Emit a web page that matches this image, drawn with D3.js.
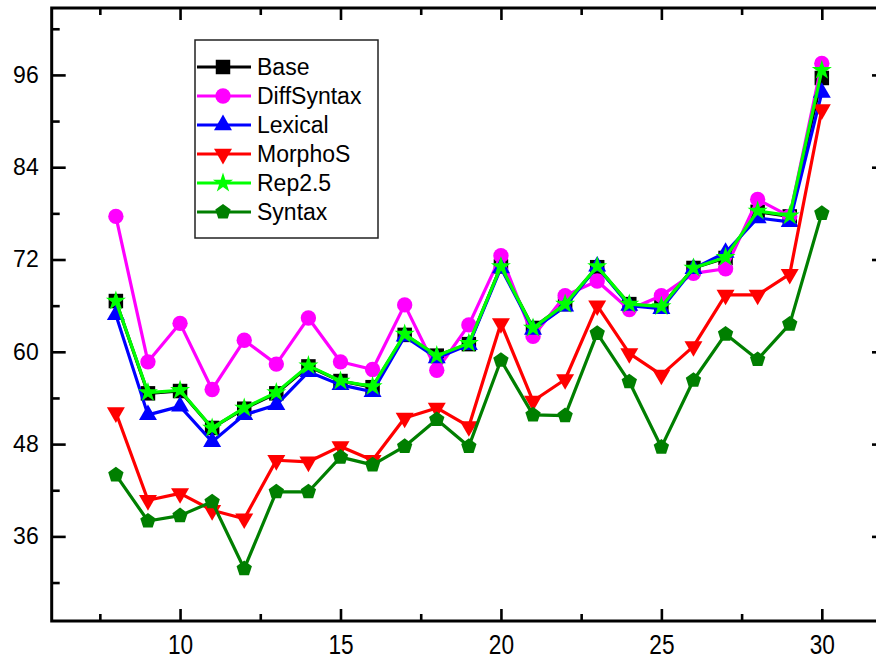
<!DOCTYPE html>
<html>
<head>
<meta charset="utf-8">
<script src="https://cdn.jsdelivr.net/npm/d3@7"></script>
<style>
  html, body { margin: 0; padding: 0; background: #fff; }
  svg { display: block; font-family: "Liberation Sans", Arial, sans-serif; }
</style>
</head>
<body>
<svg id="chart" width="876" height="659"></svg>
<script>
(function(){
'use strict';

// x positions (one point per integer)
var xValues = [8, 9, 10, 11, 12, 13, 14, 15, 16, 17, 18, 19, 20, 21, 22, 23, 24, 25, 26, 27, 28, 29, 30];

var baseValues       = [66.6, 54.6, 54.9, 50.1, 52.6, 54.6, 58.1, 56.2, 55.4, 62.2, 59.5, 61.0, 71.1, 63.1, 66.2, 71.0, 66.2, 65.9, 70.9, 72.2, 78.2, 77.6, 95.6];
var diffSyntaxValues = [77.6, 58.7, 63.7, 55.1, 61.5, 58.4, 64.4, 58.7, 57.7, 66.1, 57.6, 63.5, 72.5, 62.0, 67.3, 69.2, 65.5, 67.3, 70.2, 70.8, 79.8, 77.6, 97.5];
var lexicalValues    = [64.8, 51.8, 52.9, 48.3, 51.8, 53.1, 57.4, 55.7, 54.8, 62.0, 59.2, 60.9, 70.9, 62.9, 65.9, 71.1, 66.0, 65.6, 70.8, 72.9, 77.4, 76.9, 93.7];
var morphoSValues    = [52.1, 40.7, 41.6, 39.4, 38.3, 45.9, 45.7, 47.7, 45.9, 51.4, 52.7, 50.3, 63.7, 53.6, 56.4, 66.0, 59.8, 57.0, 60.7, 67.4, 67.4, 70.1, 91.5];
var rep25Values      = [66.6, 54.7, 55.0, 50.1, 52.7, 54.7, 58.2, 56.2, 55.5, 62.3, 59.5, 61.1, 71.1, 63.1, 66.2, 71.1, 66.2, 65.9, 70.9, 72.3, 78.3, 77.7, 96.6];
var syntaxValues     = [44.0, 38.0, 38.7, 40.5, 31.8, 41.8, 41.8, 46.3, 45.3, 47.7, 51.2, 47.7, 58.9, 51.8, 51.7, 62.4, 56.1, 47.6, 56.3, 62.3, 59.0, 63.6, 78.0];

var seriesNames = ['Base', 'DiffSyntax', 'Lexical', 'MorphoS', 'Rep2.5', 'Syntax'];

var xMajorTicks = [10, 15, 20, 25, 30];
var xMinorTicks = [7.5, 12.5, 17.5, 22.5, 27.5];
var yMajorTicks = [36, 48, 60, 72, 84, 96];
var yMinorTicks = [30, 42, 54, 66, 78, 90, 102];

var series = [
    {name: seriesNames[0], values: baseValues,       color: '#000000', fill: '#000000', symbol: 'square'},
    {name: seriesNames[1], values: diffSyntaxValues, color: '#ff00ff', fill: '#ff00ff', symbol: 'circle'},
    {name: seriesNames[2], values: lexicalValues,    color: '#0000ff', fill: '#0000ff', symbol: 'triangleUp'},
    {name: seriesNames[3], values: morphoSValues,    color: '#ff0000', fill: '#ff0000', symbol: 'triangleDown'},
    {name: seriesNames[4], values: rep25Values,      color: '#00ff00', fill: '#00ff00', symbol: 'star'},
    {name: seriesNames[5], values: syntaxValues,     color: '#007f00', fill: '#007f00', symbol: 'pentagon'}
];

var frame = {left: 51.7, right: 886, top: 8, bottom: 621};

var x = d3.scaleLinear().domain([6, 32]).range([frame.left, frame.right]);
var y = d3.scaleLinear().domain([25, 104.7]).range([frame.bottom, frame.top]);

var svg = d3.select('#chart');

// symbol generator, returns a path string centred on 0,0
var pentagon = {
    draw: function(context, size) {
        var r = Math.sqrt(size / 2.3776);
        for (var i = 0; i < 5; i++) {
            var a = -Math.PI / 2 + i * 2 * Math.PI / 5;
            if (i === 0) context.moveTo(r * Math.cos(a), r * Math.sin(a));
            else context.lineTo(r * Math.cos(a), r * Math.sin(a));
        }
        context.closePath();
    }
};

function symbolPath(kind) {
    switch (kind) {
        case 'square': return d3.symbol(d3.symbolSquare, 210)();
        case 'circle': return d3.symbol(d3.symbolCircle, 185)();
        case 'triangleUp': return d3.symbol(d3.symbolTriangle, 140)();
        case 'triangleDown': return d3.symbol(d3.symbolTriangle, 140)();
        case 'star': return d3.symbol(d3.symbolStar, 125)();
        case 'pentagon': return d3.symbol(pentagon, 155)();
    }
}

function symbolTransform(kind, px, py) {
    return 'translate(' + px + ',' + py + ')' + (kind === 'triangleDown' ? ' rotate(180)' : '');
}

// ---- axes (ticks pointing inward) ----
var fontAxis = '"Liberation Sans", Arial, sans-serif';

function styleAxis(g) {
    g.select('.domain').remove();
    g.selectAll('line').attr('stroke', '#000').attr('stroke-width', 2.6);
}

var bottom = svg.append('g').attr('transform', 'translate(0,' + frame.bottom + ')')
    .call(d3.axisBottom(x).tickValues(xMajorTicks).tickSize(-12).tickPadding(14).tickFormat(d3.format('d')))
    .call(styleAxis);
bottom.selectAll('text')
    .attr('font-size', 27).attr('font-family', fontAxis).attr('fill', '#000')
    .attr('transform', 'scale(0.84,1)');

svg.append('g').attr('transform', 'translate(0,' + frame.bottom + ')')
    .call(d3.axisBottom(x).tickValues(xMinorTicks).tickSize(-7).tickFormat(''))
    .call(styleAxis);

svg.append('g').attr('transform', 'translate(0,' + frame.top + ')')
    .call(d3.axisTop(x).tickValues(xMajorTicks).tickSize(-12).tickFormat(''))
    .call(styleAxis);
svg.append('g').attr('transform', 'translate(0,' + frame.top + ')')
    .call(d3.axisTop(x).tickValues(xMinorTicks).tickSize(-7).tickFormat(''))
    .call(styleAxis);

var left = svg.append('g').attr('transform', 'translate(' + frame.left + ',0)')
    .call(d3.axisLeft(y).tickValues(yMajorTicks).tickSize(-14).tickPadding(13).tickFormat(d3.format('d')))
    .call(styleAxis);
left.selectAll('text').attr('font-size', 23).attr('font-family', fontAxis).attr('fill', '#000');

svg.append('g').attr('transform', 'translate(' + frame.left + ',0)')
    .call(d3.axisLeft(y).tickValues(yMinorTicks).tickSize(-8).tickFormat(''))
    .call(styleAxis);

svg.append('g').attr('transform', 'translate(' + frame.right + ',0)')
    .call(d3.axisRight(y).tickValues(yMajorTicks).tickSize(-14).tickFormat(''))
    .call(styleAxis);
svg.append('g').attr('transform', 'translate(' + frame.right + ',0)')
    .call(d3.axisRight(y).tickValues(yMinorTicks).tickSize(-8).tickFormat(''))
    .call(styleAxis);

svg.append('rect')
    .attr('x', frame.left).attr('y', frame.top)
    .attr('width', frame.right - frame.left).attr('height', frame.bottom - frame.top)
    .attr('fill', 'none').attr('stroke', '#000').attr('stroke-width', 3);

// ---- series ----
var line = d3.line()
    .x(function(d, i) { return x(xValues[i]); })
    .y(function(d) { return y(d); });

series.forEach(function(s) {
    var g = svg.append('g').attr('class', 'series');
    g.append('path')
        .attr('d', line(s.values))
        .attr('fill', 'none')
        .attr('stroke', s.color)
        .attr('stroke-width', 3.2)
        .attr('stroke-linejoin', 'round');
    g.selectAll('path.marker').data(s.values).enter().append('path')
        .attr('class', 'marker')
        .attr('d', symbolPath(s.symbol))
        .attr('transform', function(d, i) { return symbolTransform(s.symbol, x(xValues[i]), y(d)); })
        .attr('fill', s.fill);
});

// ---- legend ----
var legend = svg.append('g').attr('class', 'legend');
legend.append('rect')
    .attr('x', 195).attr('y', 40).attr('width', 183).attr('height', 198)
    .attr('fill', '#fff').attr('stroke', '#222').attr('stroke-width', 1.5);

var items = legend.selectAll('g.item').data(series).enter().append('g')
    .attr('class', 'item')
    .attr('transform', function(d, i) { return 'translate(0,' + (67 + i * 29) + ')'; });
items.append('line')
    .attr('x1', 197).attr('x2', 251).attr('y1', 0).attr('y2', 0)
    .attr('stroke', function(d) { return d.color; }).attr('stroke-width', 3.2);
items.append('path')
    .attr('d', function(d) { return symbolPath(d.symbol); })
    .attr('transform', function(d) { return symbolTransform(d.symbol, 223, 0); })
    .attr('fill', function(d) { return d.fill; });
items.append('text')
    .attr('x', 257).attr('y', 0).attr('dy', '0.35em')
    .attr('font-size', 23).attr('fill', '#000')
    .text(function(d) { return d.name; });

})();
</script>
</body>
</html>
